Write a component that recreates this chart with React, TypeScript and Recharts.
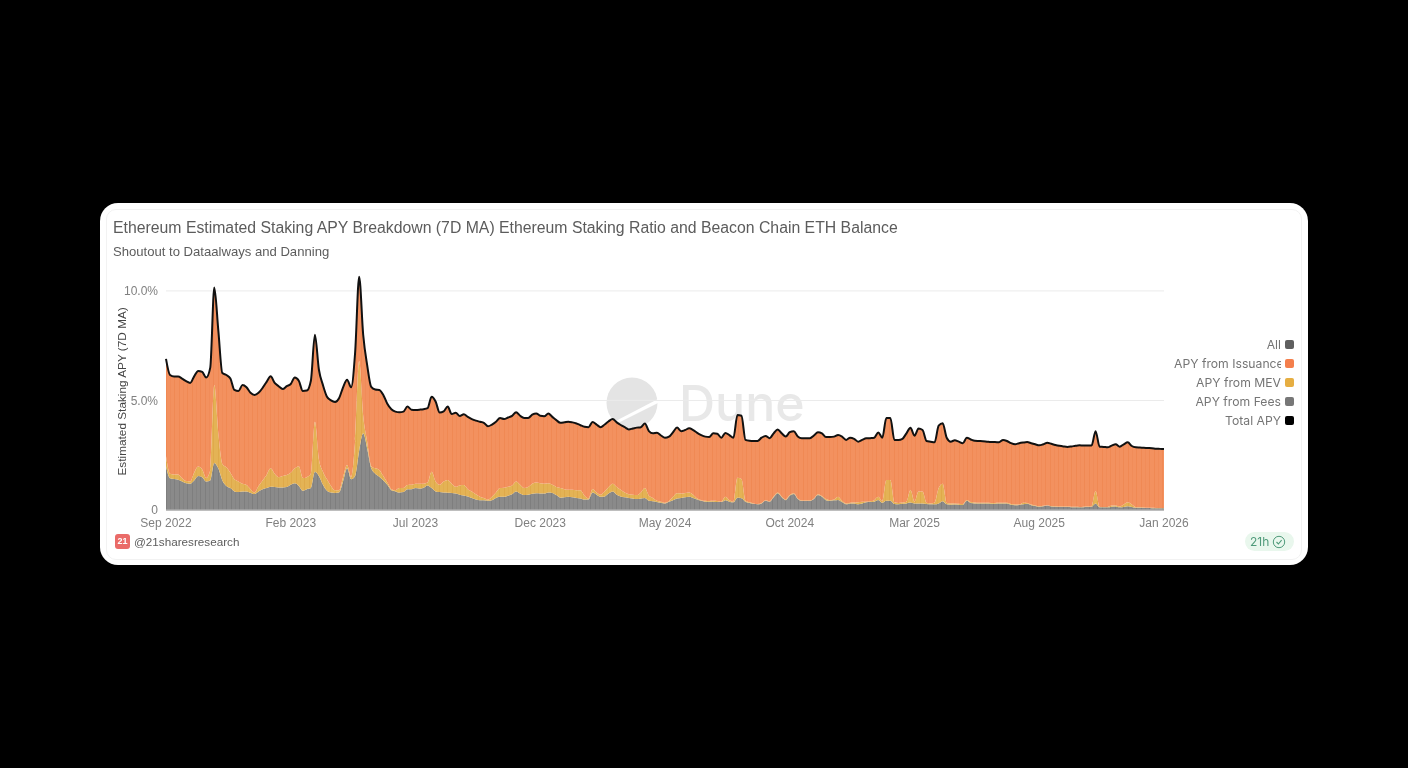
import {
  Area,
  CartesianGrid,
  ComposedChart,
  Line,
  XAxis,
  YAxis,
} from "recharts";

const tickLabels = [
  "Sep 2022",
  "Feb 2023",
  "Jul 2023",
  "Dec 2023",
  "May 2024",
  "Oct 2024",
  "Mar 2025",
  "Aug 2025",
  "Jan 2026",
];
const xTicks = [0, 31, 62, 93, 124, 155, 186, 217, 248];
const yTicks = [0, 5, 10];
const gridValues = [5, 10];

const legendItems = [
  { name: "All", color: "#5f5f5f" },
  { name: "APY from Issuance", color: "#f47f4c" },
  { name: "APY from MEV", color: "#e6ae42" },
  { name: "APY from Fees", color: "#777777" },
  { name: "Total APY", color: "#000000" },
];

// one sample about every 5 days
const totalApy = [
  6.9, 6.16, 6.09, 6.09, 6.0, 5.88, 5.8, 6.1, 6.35, 6.3,
  6.05, 6.5, 10.15, 8.2, 6.25, 6.16, 6.0, 5.48, 5.43, 5.7,
  5.6, 5.35, 5.25, 5.35, 5.57, 5.85, 6.1, 5.8, 5.65, 5.52,
  5.65, 5.75, 6.05, 5.9, 5.43, 5.45, 5.9, 8.0, 6.4, 5.7,
  5.17, 5.0, 4.93, 5.1, 5.6, 5.95, 5.6, 7.2, 10.65, 8.0,
  6.6, 5.62, 5.5, 5.48, 5.25, 4.85, 4.6, 4.49, 4.46, 4.49,
  4.72, 4.58, 4.57, 4.58, 4.6, 4.65, 5.17, 4.95, 4.45, 4.5,
  4.72, 4.38, 4.44, 4.29, 4.37, 4.25, 4.15, 4.08, 4.03, 3.98,
  3.82, 3.9, 4.03, 4.2, 4.15, 4.22, 4.3, 4.46, 4.3, 4.2,
  4.2, 4.35, 4.41, 4.3, 4.28, 4.4, 4.25, 4.1, 3.98, 4.0,
  4.03, 4.0, 3.95, 3.87, 3.8, 3.78, 4.02, 3.9, 3.78, 3.9,
  4.05, 4.15, 4.0, 3.88, 3.78, 3.68, 3.72, 3.76, 3.78, 3.95,
  3.6, 3.5, 3.53, 3.4, 3.3, 3.35, 3.55, 3.76, 3.6, 3.65,
  3.73, 3.65, 3.52, 3.42, 3.35, 3.33, 3.5, 3.48, 3.3, 3.52,
  3.42, 3.3, 4.34, 4.3, 3.2, 3.16, 3.15, 3.15, 3.3, 3.38,
  3.28, 3.5, 3.68, 3.5, 3.35, 3.55, 3.6, 3.35, 3.27, 3.27,
  3.27, 3.4, 3.55, 3.5, 3.33, 3.33, 3.35, 3.42, 3.35, 3.2,
  3.3, 3.25, 3.12, 3.2, 3.27, 3.28, 3.3, 3.54, 3.3, 4.2,
  4.2, 3.2, 3.2, 3.25, 3.5, 3.75, 3.39, 3.72, 3.65, 3.15,
  3.12, 3.09, 3.85, 3.96, 3.3, 3.12, 3.18, 3.12, 3.05, 3.3,
  3.22, 3.16, 3.15, 3.14, 3.12, 3.1, 3.1, 3.09, 3.2, 3.15,
  3.05, 3.0, 3.05, 3.08, 3.1, 3.05, 3.0, 2.95, 3.0, 3.07,
  3.02, 2.97, 2.93, 2.9, 2.88, 2.9, 2.93, 2.95, 2.94, 2.94,
  2.94, 3.6, 2.89, 2.88, 2.86, 2.94, 3.0, 2.89, 3.0, 3.09,
  2.92, 2.86, 2.85, 2.84, 2.83, 2.82, 2.8, 2.79, 2.78,
];

const feesApy = [
  2.0, 1.45, 1.42, 1.38, 1.3, 1.22, 1.2, 1.35, 1.55, 1.5,
  1.3, 1.35, 2.15, 1.9, 1.35, 1.1, 1.0, 0.85, 0.82, 0.85,
  0.85, 0.78, 0.73, 0.85, 0.95, 1.0, 1.06, 1.05, 1.03, 1.03,
  1.05, 1.15, 1.22, 1.1, 0.88, 0.95, 1.0, 1.75, 1.55, 1.15,
  0.88, 0.8, 0.78, 0.8, 1.3, 1.9, 1.4, 1.55, 2.7, 3.5,
  2.8, 1.9, 1.65, 1.52, 1.35, 1.15, 0.9, 0.85, 0.8, 0.82,
  0.95, 0.95, 1.0, 0.98, 1.02, 1.12, 1.0, 0.85, 0.82, 0.8,
  0.79, 0.78, 0.75, 0.7, 0.66, 0.62, 0.55, 0.48, 0.45, 0.44,
  0.42, 0.45, 0.55, 0.6, 0.6, 0.65, 0.72, 0.84, 0.75, 0.68,
  0.7, 0.74, 0.76, 0.75, 0.75, 0.8, 0.78, 0.68, 0.56, 0.58,
  0.6, 0.58, 0.55, 0.53, 0.48, 0.48, 0.8, 0.7, 0.6, 0.62,
  0.75, 0.84, 0.7, 0.62, 0.58, 0.55, 0.53, 0.5, 0.53, 0.55,
  0.42, 0.4, 0.37, 0.33, 0.3, 0.38, 0.45, 0.53, 0.55, 0.58,
  0.6, 0.55, 0.48, 0.42, 0.38, 0.38, 0.38, 0.36, 0.36, 0.44,
  0.38, 0.35, 0.56, 0.54, 0.38, 0.32, 0.28, 0.26, 0.3, 0.42,
  0.38, 0.58, 0.76, 0.58, 0.45, 0.65, 0.73, 0.5, 0.41, 0.41,
  0.41, 0.5, 0.68, 0.6, 0.45, 0.42, 0.44, 0.46, 0.36, 0.26,
  0.3, 0.3, 0.26, 0.3, 0.35, 0.36, 0.38, 0.46, 0.33, 0.42,
  0.42, 0.27, 0.26, 0.28, 0.3, 0.34, 0.3, 0.3, 0.3, 0.27,
  0.26, 0.26, 0.3, 0.4, 0.26, 0.24, 0.25, 0.24, 0.23, 0.42,
  0.32, 0.3, 0.3, 0.3, 0.3, 0.29, 0.29, 0.3, 0.3, 0.3,
  0.24, 0.22, 0.23, 0.26, 0.28, 0.22, 0.18, 0.15, 0.17, 0.2,
  0.16, 0.15, 0.14, 0.14, 0.14, 0.13, 0.13, 0.12, 0.13, 0.14,
  0.15, 0.3, 0.12, 0.12, 0.12, 0.15, 0.16, 0.12, 0.14, 0.17,
  0.14, 0.1, 0.1, 0.09, 0.09, 0.08, 0.08, 0.08, 0.08,
];

const mevApy = [
  0.45, 0.2, 0.2, 0.24, 0.15, 0.1, 0.1, 0.35, 0.43, 0.35,
  0.16, 0.48, 3.55, 1.6, 0.75, 0.85, 0.7, 0.55, 0.48, 0.35,
  0.29, 0.17, 0.07, 0.25, 0.4, 0.6, 0.84, 0.6, 0.47, 0.52,
  0.55, 0.55, 0.68, 0.9, 0.58, 0.55, 0.65, 2.28, 0.75, 0.6,
  0.52, 0.3, 0.12, 0.1, 0.2, 0.15, 0.1, 1.6, 4.1, 0.8,
  0.3, 0.1, 0.25, 0.31, 0.2, 0.1, 0.05, 0.05, 0.2, 0.18,
  0.19, 0.2, 0.2, 0.22, 0.18, 0.13, 0.75, 0.45, 0.33, 0.5,
  0.58, 0.42, 0.31, 0.42, 0.48, 0.33, 0.3, 0.24, 0.16, 0.11,
  0.05, 0.15, 0.25, 0.4, 0.42, 0.41, 0.4, 0.46, 0.4, 0.32,
  0.35, 0.46, 0.5, 0.47, 0.45, 0.42, 0.37, 0.37, 0.44, 0.37,
  0.32, 0.34, 0.35, 0.37, 0.17, 0.05, 0.16, 0.1, 0.1, 0.23,
  0.3, 0.36, 0.35, 0.3, 0.22, 0.17, 0.17, 0.18, 0.27, 0.45,
  0.23, 0.15, 0.05, 0.05, 0.03, 0.03, 0.15, 0.23, 0.2, 0.2,
  0.2, 0.15, 0.04, 0.03, 0.04, 0.03, 0.04, 0.05, 0.02, 0.16,
  0.07, 0.03, 0.91, 0.88, 0.04, 0.03, 0.02, 0.01, 0.02, 0.03,
  0.02, 0.04, 0.04, 0.04, 0.03, 0.03, 0.03, 0.02, 0.02, 0.02,
  0.02, 0.02, 0.04, 0.04, 0.05, 0.03, 0.04, 0.15, 0.06, 0.04,
  0.03, 0.04, 0.09, 0.08, 0.03, 0.04, 0.07, 0.14, 0.07, 0.95,
  0.95, 0.08, 0.06, 0.06, 0.08, 0.57, 0.08, 0.54, 0.54, 0.05,
  0.04, 0.08, 0.7, 0.8, 0.06, 0.06, 0.05, 0.04, 0.04, 0.04,
  0.04, 0.04, 0.03, 0.03, 0.03, 0.03, 0.03, 0.03, 0.03, 0.03,
  0.03, 0.03, 0.02, 0.07, 0.04, 0.03, 0.02, 0.02, 0.02, 0.02,
  0.02, 0.02, 0.02, 0.02, 0.02, 0.02, 0.02, 0.02, 0.02, 0.02,
  0.02, 0.57, 0.02, 0.02, 0.02, 0.05, 0.04, 0.04, 0.11, 0.18,
  0.11, 0.03, 0.02, 0.02, 0.01, 0.02, 0.01, 0.01, 0.01,
];

const chartData = totalApy.map((total, i) => ({
  i,
  fees: feesApy[i],
  mev: mevApy[i],
  issuance: +(total - feesApy[i] - mevApy[i]).toFixed(2),
  total,
}));

const uiFont = "Inter, sans-serif";
const chartFont = "'Liberation Sans', Arial, sans-serif";

const formatY = (v: number) => (v === 0 ? "0" : `${v.toFixed(1)}%`);
const formatX = (v: number) => tickLabels[xTicks.indexOf(v)] ?? "";

// the source draws thin daily bars, these fills give the same fine stripes
function Stripes({ id, base, dark }: { id: string; base: string; dark: string }) {
  return (
    <pattern id={id} width={13} height={8} patternUnits="userSpaceOnUse">
      <rect width={13} height={8} fill={base} />
      <rect x={1} width={1} height={8} fill={dark} />
      <rect x={5} width={0.6} height={8} fill={dark} />
      <rect x={9} width={1} height={8} fill={dark} />
    </pattern>
  );
}

function DuneMark() {
  return (
    <svg
      width={240}
      height={70}
      style={{ position: "absolute", left: 500, top: 172 }}
    >
      <circle cx={32} cy={28} r={25.5} fill="#e4e4e4" />
      <path d="M8 50 L58 24 L58 28 L10 52 Z" fill="#fff" />
      <text
        x={79}
        y={46}
        fontFamily={uiFont}
        fontSize={50}
        fontWeight={500}
        fill="#e8e8e8"
      >
        Dune
      </text>
    </svg>
  );
}

export default function App() {
  return (
    <div
      style={{
        position: "fixed",
        inset: 0,
        background: "#000",
        fontFamily: chartFont,
      }}
    >
      <div
        style={{
          position: "absolute",
          left: 100,
          top: 203,
          width: 1208,
          height: 362,
          background: "#fff",
          borderRadius: 18,
          overflow: "hidden",
          filter: "blur(0.5px)",
        }}
      >
        <div
          style={{
            position: "absolute",
            left: 6,
            top: 6,
            right: 6,
            bottom: 5,
            border: "1px solid #f2f2f2",
            borderRadius: 10,
          }}
        />
        <div
          style={{
            position: "absolute",
            left: 13,
            top: 15,
            fontSize: 15.8,
            lineHeight: "20px",
            color: "#5c5c5c",
            whiteSpace: "nowrap",
          }}
        >
          Ethereum Estimated Staking APY Breakdown (7D MA) Ethereum Staking
          Ratio and Beacon Chain ETH Balance
        </div>
        <div
          style={{
            position: "absolute",
            left: 13,
            top: 40,
            fontSize: 13.1,
            lineHeight: "17px",
            color: "#5c5c5c",
            whiteSpace: "nowrap",
          }}
        >
          Shoutout to Dataalways and Danning
        </div>

        <DuneMark />

        <div style={{ position: "absolute", left: 0, top: 62 }}>
          <ComposedChart
            width={1100}
            height={290}
            data={chartData}
            margin={{ top: 4, right: 36, left: 6, bottom: 15 }}
          >
            <defs>
              <Stripes id="feesFill" base="#8a8a8a" dark="#7e7e7e" />
              <Stripes id="mevFill" base="#e4b355" dark="#dfa94a" />
              <Stripes id="issuanceFill" base="#f3915f" dark="#f08954" />
            </defs>
            <CartesianGrid
              horizontal
              vertical={false}
              horizontalValues={gridValues}
              stroke="#ebebeb"
              strokeWidth={1}
            />
            <XAxis
              dataKey="i"
              type="number"
              domain={[0, 248]}
              ticks={xTicks}
              interval={0}
              tickFormatter={formatX}
              tick={{ fontSize: 12, fill: "#808080" }}
              tickLine={false}
              axisLine={{ stroke: "#a8a8a8", strokeWidth: 1.5 }}
              height={30}
              tickMargin={2}
            />
            <YAxis
              type="number"
              domain={[0, 11]}
              ticks={yTicks}
              interval={0}
              tickFormatter={formatY}
              tick={{ fontSize: 12, fill: "#808080" }}
              tickLine={false}
              axisLine={false}
              width={60}
              tickMargin={2}
              label={{
                value: "Estimated Staking APY (7D MA)",
                angle: -90,
                position: "insideLeft",
                offset: 16,
                dy: 86,
                style: { fontSize: 11.8, fill: "#444444" },
              }}
            />
            <Area
              dataKey="fees"
              stackId="apy"
              type="monotone"
              stroke="none"
              fill="url(#feesFill)"
              fillOpacity={1}
              isAnimationActive={false}
            />
            <Area
              dataKey="mev"
              stackId="apy"
              type="monotone"
              stroke="none"
              fill="url(#mevFill)"
              fillOpacity={1}
              isAnimationActive={false}
            />
            <Area
              dataKey="issuance"
              stackId="apy"
              type="monotone"
              stroke="none"
              fill="url(#issuanceFill)"
              fillOpacity={1}
              isAnimationActive={false}
            />
            <Line
              dataKey="total"
              type="monotone"
              stroke="#111111"
              strokeWidth={2}
              dot={false}
              activeDot={false}
              isAnimationActive={false}
            />
          </ComposedChart>
        </div>

        <div
          style={{
            position: "absolute",
            right: 14,
            top: 132,
            width: 134,
            fontFamily: uiFont,
            fontSize: 12.2,
            color: "#757575",
          }}
        >
          {legendItems.map((item) => (
            <div
              key={item.name}
              style={{
                display: "flex",
                justifyContent: "flex-end",
                alignItems: "center",
                height: 19,
                whiteSpace: "nowrap",
              }}
            >
              <span
                style={{
                  maxWidth: 107,
                  overflow: "hidden",
                  textAlign: "right",
                }}
              >
                {item.name}
              </span>
              <span
                style={{
                  width: 9,
                  height: 9,
                  marginLeft: 4,
                  borderRadius: 2,
                  background: item.color,
                }}
              />
            </div>
          ))}
        </div>

        <div
          style={{
            position: "absolute",
            left: 15,
            top: 331,
            width: 15,
            height: 15,
            borderRadius: 3,
            background: "#ea6b68",
            color: "#fff",
            fontSize: 9,
            fontWeight: 700,
            lineHeight: "15px",
            textAlign: "center",
          }}
        >
          21
        </div>
        <div
          style={{
            position: "absolute",
            left: 34,
            top: 331,
            fontSize: 11.7,
            lineHeight: "15px",
            color: "#5c5c5c",
          }}
        >
          @21sharesresearch
        </div>

        <div
          style={{
            position: "absolute",
            left: 1145,
            top: 329,
            width: 49,
            height: 19,
            borderRadius: 10,
            background: "#e9f7ed",
            color: "#4f9a7a",
            fontFamily: uiFont,
            fontSize: 12,
            lineHeight: "19px",
            display: "flex",
            alignItems: "center",
            paddingLeft: 5,
            boxSizing: "border-box",
          }}
        >
          21h
          <svg width={14} height={14} style={{ marginLeft: 3 }}>
            <circle cx={7} cy={7} r={5.7} fill="none" stroke="#4f9a7a" />
            <path
              d="M4.5 7 L6.4 9 L9.6 5.2"
              fill="none"
              stroke="#4f9a7a"
              strokeWidth={1.1}
            />
          </svg>
        </div>
      </div>
    </div>
  );
}
